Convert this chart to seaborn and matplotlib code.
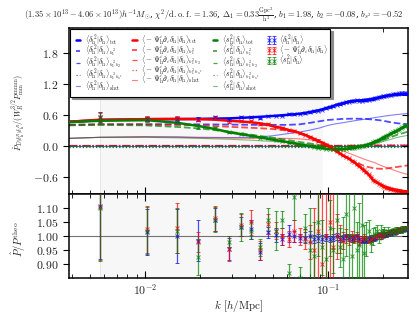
import numpy as np
import matplotlib
matplotlib.use('Agg')
import matplotlib.pyplot as plt
import seaborn as sns
from matplotlib.lines import Line2D
from matplotlib.ticker import FixedLocator, FuncFormatter, NullFormatter, LogLocator

sns.set_style('ticks')
plt.rcParams['font.family'] = ['DejaVu Serif']
plt.rcParams['mathtext.fontset'] = 'cm'

# ---------------- data ----------------
k_bins = [0.0057, 0.0103, 0.0149, 0.0195, 0.0241, 0.0287, 0.0333, 0.0379, 0.0425, 0.0471,
          0.0517, 0.0563, 0.0609, 0.0655, 0.0701, 0.0747, 0.0793, 0.0839, 0.0885, 0.0931,
          0.0977, 0.1023, 0.1069, 0.1115, 0.1161, 0.1207, 0.1253, 0.1299, 0.1345, 0.1391,
          0.1437, 0.1483, 0.1529, 0.1575, 0.1621, 0.1667, 0.1713, 0.1759, 0.1805, 0.1851,
          0.1897, 0.1943, 0.1989, 0.2035, 0.2081, 0.2127, 0.2173, 0.2219, 0.2265, 0.2311,
          0.2357, 0.2403, 0.2449, 0.2495, 0.2541, 0.2587, 0.2633, 0.2679]
k_lo, k_hi = 0.00385, 0.274
k_theo = [k_lo] + k_bins + [k_hi]

tot_blue = [0.47, 0.50, 0.52, 0.52, 0.525, 0.53, 0.535, 0.545, 0.555, 0.565,
            0.575, 0.585, 0.595, 0.605, 0.615, 0.625, 0.64, 0.655, 0.675, 0.69,
            0.71, 0.735, 0.755, 0.775, 0.80, 0.815, 0.83, 0.845, 0.86, 0.87,
            0.875, 0.88, 0.88, 0.885, 0.89, 0.895, 0.90, 0.905, 0.915, 0.925,
            0.93, 0.94, 0.95, 0.955, 0.965, 0.97, 0.975, 0.98, 0.985, 0.985,
            0.99, 0.99, 0.99, 0.995, 0.995, 0.995, 0.99, 0.99, 0.99, 0.985]
tot_red = [0.47, 0.51, 0.52, 0.525, 0.52, 0.51, 0.49, 0.475, 0.46, 0.44,
           0.41, 0.37, 0.35, 0.31, 0.29, 0.25, 0.22, 0.18, 0.14, 0.10,
           0.07, 0.03, -0.01, -0.05, -0.10, -0.14, -0.18, -0.21, -0.24, -0.28,
           -0.31, -0.35, -0.39, -0.43, -0.47, -0.51, -0.55, -0.60, -0.65, -0.68,
           -0.70, -0.72, -0.74, -0.76, -0.78, -0.79, -0.80, -0.81, -0.82, -0.83,
           -0.835, -0.84, -0.845, -0.85, -0.855, -0.86, -0.865, -0.87, -0.87, -0.875]
tot_green = [0.46, 0.49, 0.50, 0.45, 0.39, 0.33, 0.27, 0.23, 0.20, 0.17,
             0.14, 0.115, 0.095, 0.075, 0.055, 0.035, 0.015, 0.0, -0.015, -0.03,
             -0.04, -0.05, -0.055, -0.06, -0.06, -0.06, -0.055, -0.05, -0.045, -0.04,
             -0.03, -0.02, -0.01, 0.0, 0.01, 0.02, 0.035, 0.05, 0.07, 0.09,
             0.10, 0.12, 0.14, 0.16, 0.18, 0.20, 0.21, 0.23, 0.25, 0.26,
             0.28, 0.29, 0.31, 0.32, 0.34, 0.35, 0.37, 0.38, 0.39, 0.41]

ratio_blue = [1.11, 1.015, 1.00, 0.985, 1.06, 0.955, 1.035, 1.025, 0.945, 1.015,
              1.005, 0.99, 1.01, 1.0, 0.995, 0.995, 1.0, 0.99, 0.995, 0.99,
              0.995, 0.99, 0.995, 1.0, 0.99, 0.995, 1.0, 0.995, 0.99, 0.995,
              1.0, 0.99, 0.985, 0.99, 0.985, 0.99, 0.995, 0.99, 0.995, 1.0,
              1.005, 1.0, 1.005, 1.01, 1.005, 1.01, 1.015, 1.01, 1.015, 1.02,
              1.015, 1.02, 1.025, 1.02, 1.025, 1.03, 1.025, 1.03]
err_blue = [0.19, 0.083, 0.097, 0.072, 0.04, 0.04, 0.035, 0.035, 0.03, 0.02,
            0.025, 0.02, 0.03, 0.02, 0.015, 0.02, 0.02, 0.015, 0.015, 0.015,
            0.012, 0.012, 0.012, 0.012, 0.012, 0.01, 0.01, 0.01, 0.01, 0.01,
            0.01, 0.01, 0.01, 0.01, 0.01, 0.008, 0.008, 0.008, 0.008, 0.008,
            0.008, 0.008, 0.008, 0.007, 0.007, 0.007, 0.007, 0.007, 0.006, 0.006,
            0.006, 0.006, 0.006, 0.006, 0.006, 0.005, 0.005, 0.005]
ratio_red = [1.105, 1.025, 1.03, 0.98, 1.065, 0.955, 1.04, 1.05, 0.95, 1.045,
             1.02, 1.0, 0.99, 1.02, 1.0, 0.99, 0.98, 0.95, 1.02, 0.9,
             1.0, 1.05, 0.96, 1.0, 0.99, 0.985, 1.0, 0.99, 1.0, 0.99,
             1.0, 0.985, 0.99, 0.995, 0.99, 0.985, 0.99, 0.995, 1.0, 1.0,
             1.005, 1.0, 1.01, 1.005, 1.01, 1.015, 1.01, 1.015, 1.02, 1.015,
             1.02, 1.025, 1.02, 1.025, 1.025, 1.03, 1.03, 1.03]
err_red = [0.19, 0.085, 0.09, 0.035, 0.045, 0.045, 0.04, 0.045, 0.035, 0.035,
           0.03, 0.03, 0.03, 0.04, 0.03, 0.035, 0.06, 0.15, 0.3, 0.3,
           0.4, 0.5, 0.2, 0.08, 0.05, 0.03, 0.025, 0.02, 0.02, 0.015,
           0.015, 0.015, 0.012, 0.012, 0.012, 0.01, 0.01, 0.01, 0.01, 0.01,
           0.008, 0.008, 0.008, 0.008, 0.007, 0.007, 0.007, 0.007, 0.006, 0.006,
           0.006, 0.006, 0.006, 0.006, 0.005, 0.005, 0.005, 0.005]
ratio_green = [1.10, 1.02, 1.02, 0.925, 1.06, 0.98, 1.035, 1.02, 0.96, 1.06,
               1.02, 1.06, 0.87, 1.14, 0.85, 1.03, 0.95, 0.93, 1.05, 0.96,
               0.92, 1.03, 0.95, 1.06, 0.96, 0.92, 1.08, 1.0, 0.93, 1.1,
               0.95, 0.97, 1.04, 0.94, 0.99, 1.02, 0.975, 1.0, 1.01, 1.02,
               0.995, 1.02, 1.01, 1.02, 1.01, 1.02, 1.01, 1.015, 1.02, 1.015,
               1.025, 1.02, 1.025, 1.02, 1.03, 1.025, 1.03, 1.03]
err_green = [0.19, 0.085, 0.08, 0.065, 0.045, 0.02, 0.05, 0.03, 0.03, 0.04,
             0.07, 0.03, 0.03, 0.08, 0.04, 0.05, 0.15, 0.12, 0.12, 0.1,
             0.08, 0.1, 0.08, 0.12, 0.07, 0.15, 0.15, 0.2, 0.08, 0.12,
             0.1, 0.15, 0.2, 0.1, 0.06, 0.04, 0.03, 0.03, 0.025, 0.02,
             0.02, 0.02, 0.015, 0.015, 0.012, 0.012, 0.01, 0.01, 0.01, 0.01,
             0.01, 0.008, 0.008, 0.008, 0.008, 0.008, 0.008, 0.008]

k_c = [0.00385, 0.0057, 0.01, 0.015, 0.02, 0.03, 0.04, 0.05, 0.06, 0.07, 0.08,
       0.09, 0.1, 0.11, 0.12, 0.14, 0.16, 0.18, 0.2, 0.22, 0.24, 0.274]
b1sq_blue = [0.41, 0.42, 0.42, 0.42, 0.42, 0.415, 0.41, 0.41, 0.41, 0.42, 0.45,
             0.48, 0.505, 0.515, 0.525, 0.53, 0.525, 0.51, 0.49, 0.46, 0.44, 0.42]
b1sq_red = [0.41, 0.42, 0.42, 0.41, 0.40, 0.37, 0.35, 0.33, 0.30, 0.25, 0.16,
            0.08, 0.0, -0.10, -0.18, -0.30, -0.39, -0.43, -0.44, -0.42, -0.40, -0.37]
b1sq_green = [0.40, 0.41, 0.40, 0.37, 0.34, 0.27, 0.21, 0.16, 0.12, 0.08, 0.05,
              0.02, 0.0, -0.01, -0.01, 0.0, 0.03, 0.07, 0.12, 0.17, 0.22, 0.28]
b2_blue = [0.02, 0.02, 0.02, 0.02, 0.02, 0.02, 0.02, 0.02, 0.02, 0.02, 0.02,
           0.02, 0.02, 0.02, 0.02, 0.02, 0.02, 0.02, 0.02, 0.02, 0.02, 0.02]
b2_red = [0.01, 0.01, 0.01, 0.01, 0.01, 0.01, 0.01, 0.01, 0.01, 0.01, 0.01,
          0.01, 0.01, 0.01, 0.01, 0.015, 0.015, 0.02, 0.02, 0.02, 0.02, 0.02]
b2_green = [0.0, 0.0, 0.0, 0.0, 0.0, 0.0, 0.0, 0.0, 0.0, 0.0, 0.0,
            0.0, 0.0, 0.0, 0.0, 0.0, 0.0, 0.0, 0.0, 0.0, 0.0, 0.0]
bs2_blue = [-0.01, -0.01, -0.01, -0.01, -0.01, -0.01, -0.01, -0.01, -0.01, -0.01, -0.01,
            -0.01, -0.01, -0.01, -0.01, -0.01, -0.01, -0.01, -0.01, -0.01, -0.01, -0.01]
bs2_red = [0.005, 0.005, 0.005, 0.005, 0.005, 0.005, 0.005, 0.005, 0.005, 0.005, 0.005,
           0.01, 0.01, 0.015, 0.015, 0.02, 0.02, 0.02, 0.02, 0.02, 0.02, 0.02]
bs2_green = [-0.005, -0.005, -0.005, -0.005, -0.005, -0.005, -0.005, -0.005, -0.005, -0.005, -0.005,
             -0.005, -0.005, -0.005, -0.005, -0.005, -0.005, -0.005, -0.005, -0.005, -0.005, -0.005]
shot_blue = [0.15, 0.17, 0.18, 0.18, 0.17, 0.165, 0.17, 0.20, 0.24, 0.27, 0.31,
             0.35, 0.40, 0.43, 0.45, 0.49, 0.52, 0.55, 0.575, 0.595, 0.61, 0.63]
shot_red = [0.15, 0.17, 0.18, 0.17, 0.16, 0.155, 0.15, 0.15, 0.15, 0.14, 0.12,
            0.09, 0.04, -0.03, -0.09, -0.18, -0.26, -0.32, -0.39, -0.44, -0.49, -0.55]
shot_green = [0.15, 0.17, 0.17, 0.16, 0.15, 0.13, 0.11, 0.09, 0.07, 0.05, 0.03,
              0.01, 0.0, -0.01, -0.01, 0.0, 0.02, 0.05, 0.09, 0.13, 0.17, 0.21]

span_lo, span_hi = 0.0057, 0.094

title = (r'$(1.35\times10^{13}-4.06\times10^{13})h^{-1}M_{\odot}$, '
         r'$\chi^2/{\rm d.o.f.}=1.36$, $\Delta_1=0.33\frac{\rm Gpc^3}{h^3}$, '
         r'$b_1=1.98$, $b_2=-0.08$, $b_{s^2}=-0.52$')

names = [r'\delta_{\rm h}^2', r'-\Psi_{\rm h}^i\partial_i\delta_{\rm h}', r's_{\rm h}^2']
subs = [r'{\rm tot}', r'b_1^2', r'b_1^2\, b_2', r'b_1^2\, b_{s^2}', r'{\rm shot}']

# ---------------- plot ----------------
BLUE, RED, GREEN = '#0000ff', '#ff0000', '#008000'
colors = [BLUE, RED, GREEN]

fig = plt.figure(figsize=(4.16, 3.13), dpi=100)
ax1 = fig.add_axes([0.166, 0.379, 0.815, 0.532])
ax2 = fig.add_axes([0.166, 0.111, 0.815, 0.268], sharex=ax1)

for ax in (ax1, ax2):
    ax.set_xscale('log')
    ax.axvspan(span_lo, span_hi, color='#f7f7f7', zorder=0, lw=0)
    ax.axvline(span_lo, color='#e6e6e6', lw=0.6, zorder=0)

ax1.axhline(0, color='0.45', lw=0.8, zorder=1)
ax2.axhline(1, color='0.45', lw=0.8, zorder=1)

tots = [tot_blue, tot_red, tot_green]
b1sqs = [b1sq_blue, b1sq_red, b1sq_green]
b2s = [b2_blue, b2_red, b2_green]
bs2s = [bs2_blue, bs2_red, bs2_green]
shots = [shot_blue, shot_red, shot_green]
ratios = [ratio_blue, ratio_red, ratio_green]
errs = [err_blue, err_red, err_green]

styles = [dict(ls='-', lw=1.8, alpha=1.0),
          dict(ls='--', lw=1.3, alpha=0.7),
          dict(ls='-.', lw=0.9, alpha=0.7),
          dict(ls=':', lw=0.9, alpha=0.7),
          dict(ls='-', lw=0.8, alpha=0.5)]

line_handles = []
line_labels = []
for i, c in enumerate(colors):
    curves = [(k_theo, tots[i]), (k_c, b1sqs[i]), (k_c, b2s[i]), (k_c, bs2s[i]), (k_c, shots[i])]
    for j, (kx, yy) in enumerate(curves):
        st = styles[j]
        sns.lineplot(x=kx, y=yy, ax=ax1, color=c, linestyle=st['ls'], lw=st['lw'],
                     alpha=st['alpha'], estimator=None, sort=False,
                     zorder=3 if j == 0 else 2)
        line_handles.append(Line2D([], [], color=c, ls=st['ls'], lw=st['lw'], alpha=st['alpha']))
        line_labels.append(r'$\langle ' + names[i] + r'|\delta_{\rm h}\rangle_{' + subs[j] + '}$')

err_handles = []
err_labels = []
for i, c in enumerate(colors):
    n = min(len(k_bins), len(ratios[i]), len(errs[i]), len(tots[i]) - 2)
    kk = np.array(k_bins[:n])
    rr = np.array(ratios[i][:n])
    ee = np.array(errs[i][:n])
    tt = np.array(tots[i][1:n + 1])
    meas = tt * rr
    merr = np.abs(tt) * ee
    h = ax1.errorbar(kk, meas, yerr=merr, fmt='x', color=c, ms=2.2, mew=0.7,
                     elinewidth=0.8, capsize=1.5, capthick=0.7, alpha=0.7, zorder=4)
    ax2.errorbar(kk, rr, yerr=ee, fmt='x', color=c, ms=2.2, mew=0.7,
                 elinewidth=0.9, capsize=1.5, capthick=0.7, alpha=0.7, zorder=4)
    err_handles.append(h)
    err_labels.append(r'$\langle ' + names[i] + r'|\delta_{\rm h}\rangle$')

for ax in (ax1, ax2):
    leg = ax.get_legend()
    if leg is not None:
        leg.remove()

blank = [Line2D([], [], alpha=0), Line2D([], [], alpha=0)]
leg = ax1.legend(line_handles + err_handles + blank, line_labels + err_labels + ['', ''],
                 loc='upper left', ncol=4, fontsize=5.5, handlelength=1.2,
                 handletextpad=0.3, columnspacing=1.0, labelspacing=-0.62,
                 borderpad=0.4, borderaxespad=0.15, numpoints=2,
                 frameon=True, fancybox=False,
                 shadow={'ox': 1.5, 'oy': -1.5, 'color': '0.55', 'alpha': 1.0},
                 edgecolor='black', framealpha=1.0)
leg.get_frame().set_linewidth(0.8)
leg.set_zorder(10)

ax1.set_xlim(k_lo, k_hi)
ax1.set_ylim(-0.93, 2.28)
ax2.set_ylim(0.85, 1.15)

ax1.yaxis.set_major_locator(FixedLocator([-0.6, 0.0, 0.6, 1.2, 1.8]))
ax1.yaxis.set_major_formatter(FuncFormatter(lambda v, p: '$%.1f$' % v))
ax2.yaxis.set_major_locator(FixedLocator([0.90, 0.95, 1.00, 1.05, 1.10]))
ax2.yaxis.set_major_formatter(FuncFormatter(lambda v, p: '$%.2f$' % v))

ax2.xaxis.set_major_locator(LogLocator(base=10, numticks=10))
ax2.xaxis.set_minor_locator(LogLocator(base=10, subs=np.arange(2, 10), numticks=20))
ax2.xaxis.set_major_formatter(FuncFormatter(lambda v, p: r'$10^{%d}$' % int(round(np.log10(v)))))
ax2.xaxis.set_minor_formatter(NullFormatter())
plt.setp(ax1.get_xticklabels(), visible=False)

for ax in (ax1, ax2):
    for sp in ax.spines.values():
        sp.set_linewidth(1.1)
        sp.set_color('black')
    ax.tick_params(axis='x', which='both', direction='in', top=True, bottom=True,
                   color='black')
    ax.tick_params(axis='x', which='major', length=5, width=0.8)
    ax.tick_params(axis='x', which='minor', length=3, width=0.6)
    ax.tick_params(axis='y', which='major', direction='out', length=4, width=0.8,
                   left=True, right=False, labelsize=8.5, color='black')
    ax.tick_params(axis='x', labelsize=8.5)
    axr = ax.twinx()
    axr.set_ylim(ax.get_ylim())
    axr.yaxis.set_major_locator(FixedLocator(ax.get_yticks()))
    axr.tick_params(axis='y', direction='in', length=4, width=0.8, labelright=False,
                    color='black')
    axr.grid(False)
    for sp in axr.spines.values():
        sp.set_visible(False)

ax1.set_ylabel(r'$\hat{P}_{D|\delta_{\rm h}^R|\delta_{\rm h}^R}/(W_R^{3/2}P^{\rm mmm}_{\rm mm})$',
               fontsize=5.8)
ax1.yaxis.set_label_coords(-0.125, 0.49)
ax2.set_ylabel(r'$\hat{P}/P^{\rm theo}$', fontsize=7.5)
ax2.yaxis.set_label_coords(-0.12, 0.47)
ax2.set_xlabel(r'$k\ [h/{\rm Mpc}]$', fontsize=8, labelpad=0)

fig.text(0.515, 0.952, title, ha='center', va='center', fontsize=6.2)

fig.savefig('out.png', dpi=100)
